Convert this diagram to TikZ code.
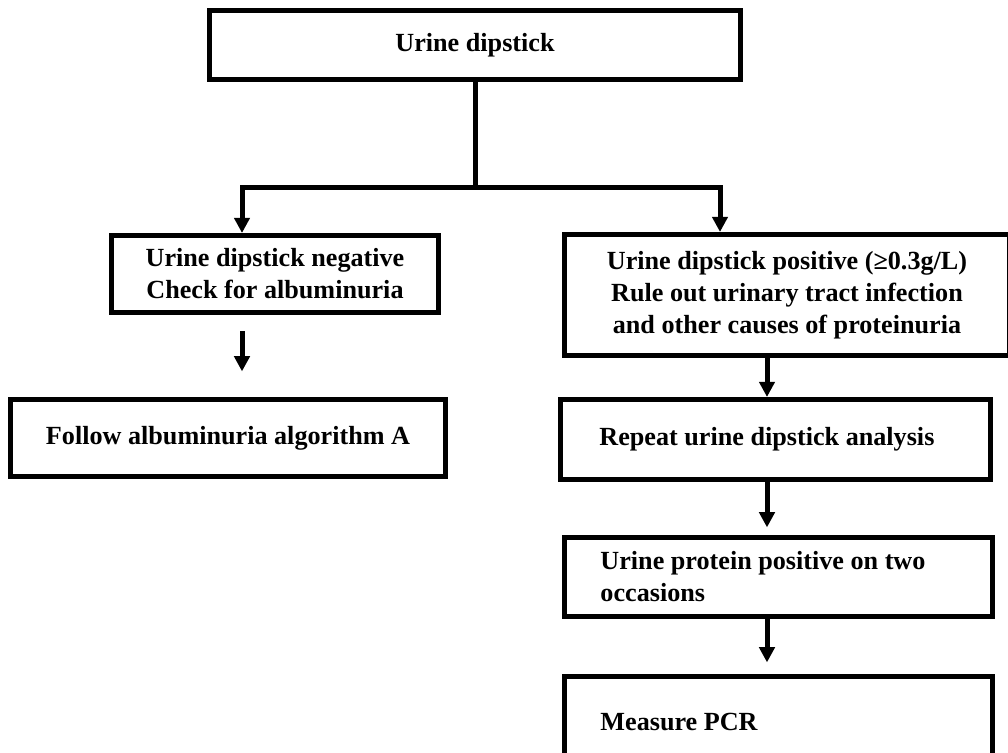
\documentclass[tikz,border=0pt]{standalone}
\usepackage{fontspec}
\setmainfont{Liberation Serif}
\usetikzlibrary{arrows.meta}

\tikzset{
    box/.style={draw, rectangle, line width=0.125cm, inner sep=0pt, align=center,
        font=\bfseries\fontsize{18.6}{22.8}\selectfont},
    leftbox/.style={box, align=flush left},
    link/.style={line width=0.125cm},
    flow/.style={line width=0.125cm, -{Triangle[length=0.38cm, width=0.38cm]}}
}

\begin{document}
\begin{tikzpicture}[x=0.025cm, y=-0.025cm]
                    \useasboundingbox (0,0) rectangle (1008,753);

                    \node[box, minimum width=13.275cm, minimum height=1.725cm] (dip) at (475,45) {Urine dipstick};
                    \node[box, minimum width=8.15cm, minimum height=1.925cm] (neg) at (275,274)
                        {Urine dipstick negative\\Check for albuminuria};
                    \node[box, minimum width=11.125cm, minimum height=3.025cm] (pos) at (787,295)
                        {Urine dipstick positive (≥0.3g/L)\\Rule out urinary tract infection\\and other causes of proteinuria};
                    \node[box, minimum width=10.875cm, minimum height=1.925cm] (follow) at (228,438)
                        {Follow albuminuria algorithm A};
                    \node[leftbox, text width=8.8cm, minimum width=10.75cm, minimum height=2cm] (repeat) at (775.5,439.5)
                        {Repeat urine dipstick analysis};
                    \node[leftbox, text width=8.9cm, minimum width=10.7cm, minimum height=1.975cm] (twice) at (778.5,577)
                        {Urine protein positive on two\\occasions};
                    \node[leftbox, text width=8.9cm, minimum width=10.7cm, minimum height=2.275cm] (pcr) at (778.5,722)
                        {Measure PCR};

                    \coordinate (split) at (475,188);
                    \coordinate (negtop) at (242,188);
                    \coordinate (postop) at (720,188);
                    \coordinate (col) at (767,300);

                    \draw[link] (dip.south) -- (split);
                    \draw[flow] (split) -- (negtop) -- (negtop |- neg.north);
                    \draw[flow] (split) -- (postop) -- (postop |- pos.north);
                    \draw[flow, shorten <=0.41cm, shorten >=0.64cm] (negtop |- neg.south) -- (negtop |- follow.north);
                    \draw[flow] (col |- pos.south) -- (col |- repeat.north);
                    \draw[flow, shorten >=0.19cm] (col |- repeat.south) -- (col |- twice.north);
                    \draw[flow, shorten >=0.29cm] (col |- twice.south) -- (col |- pcr.north);
                \end{tikzpicture}
\end{document}
